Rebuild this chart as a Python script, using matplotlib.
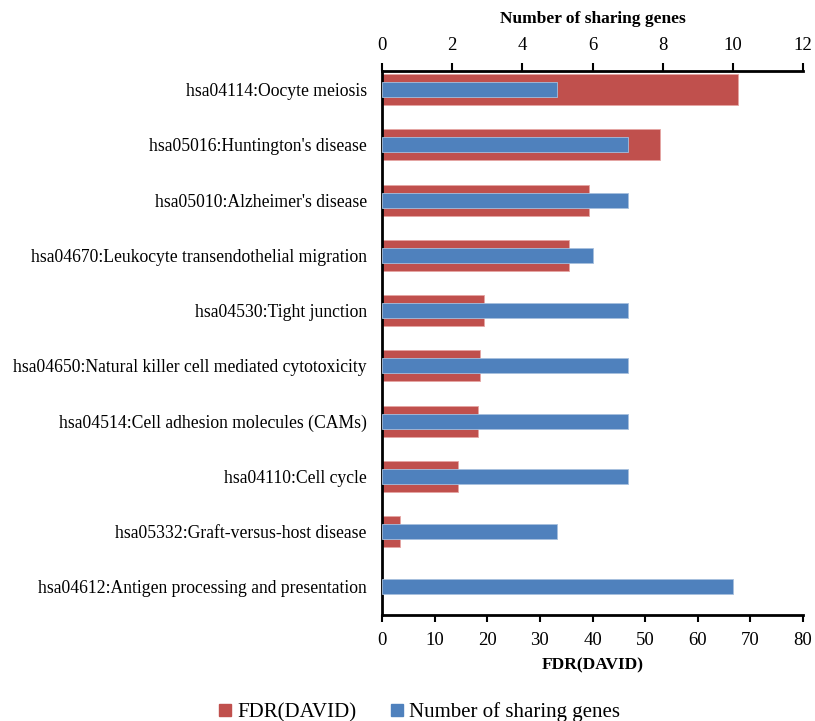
import matplotlib
matplotlib.use('Agg')
import matplotlib.pyplot as plt
from matplotlib.patches import Patch

plt.rcParams['font.family'] = ['Liberation Serif', 'DejaVu Serif']

# pathways, top to bottom
terms = ['hsa04114:Oocyte meiosis',
         "hsa05016:Huntington's disease",
         "hsa05010:Alzheimer's disease",
         'hsa04670:Leukocyte transendothelial migration',
         'hsa04530:Tight junction',
         'hsa04650:Natural killer cell mediated cytotoxicity',
         'hsa04514:Cell adhesion molecules (CAMs)',
         'hsa04110:Cell cycle',
         'hsa05332:Graft-versus-host disease',
         'hsa04612:Antigen processing and presentation']
fdr = [67.6, 52.8, 39.3, 35.5, 19.3, 18.7, 18.2, 14.4, 3.5, 0.05]
genes = [5, 7, 7, 6, 7, 7, 7, 7, 5, 10]

red = '#C0504D'
blue = '#4F81BD'

fig = plt.figure(figsize=(8.15, 7.21), dpi=100)
ax = fig.add_axes([0.4687, 0.147, 0.5166, 0.7545])
pos = list(range(len(terms)))

ax.barh(pos, fdr, height=0.56, color=red, edgecolor='#E6A5A3', linewidth=0.6)
ax.set_xlim(0, 80)
ax.set_xticks(range(0, 81, 10))
ax.set_ylim(9.51, -0.335)
ax.set_yticks(pos)
ax.set_yticklabels(terms, fontsize=12.7)
ax.tick_params(axis='y', length=0, pad=11)
ax.tick_params(axis='x', labelsize=13.5, width=1.5, length=5, direction='out', pad=7)
ax.set_xlabel('FDR(DAVID)', fontsize=12.5, fontweight='bold', labelpad=6)
for s in ['right', 'top']:
    ax.spines[s].set_visible(False)
for s in ['left', 'bottom']:
    ax.spines[s].set_linewidth(2)

ax2 = ax.twiny()
ax2.barh(pos, genes, height=0.27, color=blue, edgecolor='#A7C0DE', linewidth=0.6)
ax2.set_xlim(0, 12)
ax2.set_xticks(range(0, 13, 2))
ax2.set_ylim(9.51, -0.335)
ax2.tick_params(axis='x', labelsize=13.5, width=1.5, length=6, direction='out', pad=6)
ax2.set_xlabel('Number of sharing genes', fontsize=12.5, fontweight='bold', labelpad=10)
for s in ['right', 'bottom', 'left']:
    ax2.spines[s].set_visible(False)
ax2.spines['top'].set_linewidth(2)

handles = [Patch(color=red, label='FDR(DAVID)'),
           Patch(color=blue, label='Number of sharing genes')]
fig.legend(handles=handles, loc='lower center', bbox_to_anchor=(0.515, -0.028),
           ncol=2, frameon=False, fontsize=15, handlelength=0.55, handleheight=0.55,
           handletextpad=0.3, columnspacing=1.7)

fig.savefig('out.png', dpi=100)
